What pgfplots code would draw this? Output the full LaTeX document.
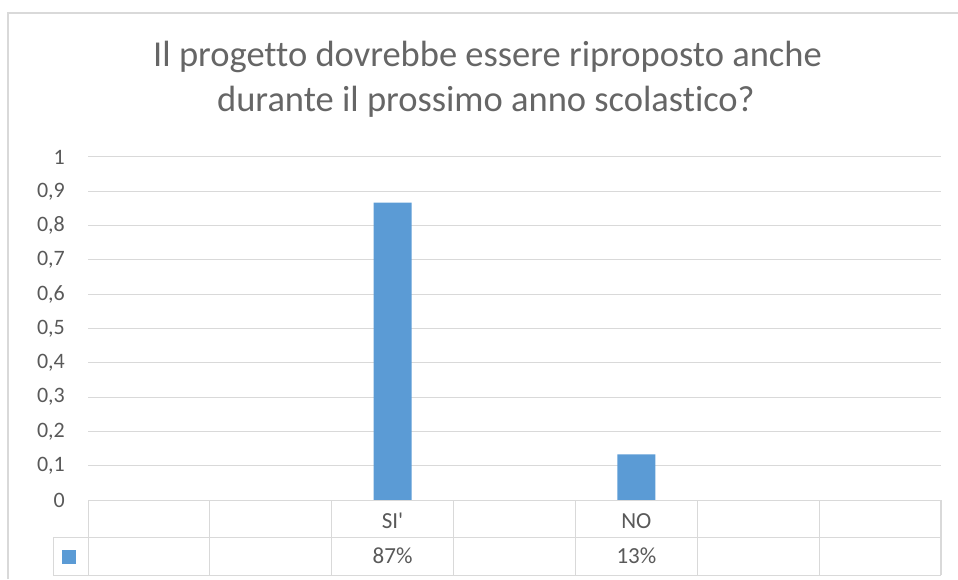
\documentclass[border=0pt]{standalone}
\usepackage{pgfplots}
\pgfplotsset{compat=1.18}
\usepackage{fontspec}
\setmainfont{Carlito}[Ligatures=NoCommon]
\definecolor{barblue}{HTML}{5B9BD5}
\definecolor{gridgray}{HTML}{D9D9D9}
\definecolor{txtgray}{HTML}{595959}
\definecolor{titlegray}{HTML}{666666}
\begin{document}
\begin{tikzpicture}[x=1pt,y=1pt]
\path[use as bounding box] (0,0) rectangle (958,579);
% outer chart frame (cut off at right and bottom)
\draw[gridgray, line width=2pt] (8,0) -- (8,566) -- (958,566);
% title
\node[titlegray, anchor=base, inner sep=0pt, font=\fontsize{36.5}{40}\selectfont] at (487.5,512) {Il progetto dovrebbe essere riproposto anche};
\node[titlegray, anchor=base, inner sep=0pt, font=\fontsize{36.5}{40}\selectfont] at (486,467) {durante il prossimo anno scolastico?};

\begin{axis}[
    at={(88pt,79pt)}, anchor=south west,
    scale only axis,
    width=853pt, height=343pt,
    xmin=0, xmax=7,
    ymin=0, ymax=1,
    axis line style={draw=none},
    xtick=\empty,
    ytick={0,0.1,...,1.01},
    ymajorgrids=true,
    grid style={gridgray, line width=1pt},
    major tick length=0pt,
    yticklabel style={
        /pgf/number format/.cd, use comma, fixed, precision=1, assume math mode=true,
        /tikz/.cd, font=\fontsize{22}{22}\selectfont, text=txtgray, inner sep=0pt, xshift=-23pt},
    clip=false,
]
\addplot[ybar, fill=barblue, draw=none, bar width=38pt] coordinates {(2.5,0.8667) (4.5,0.1333)};
\end{axis}

% data table below the axis
\begin{scope}[gridgray, line width=1pt]
\draw (88,79) -- (941,79);
\draw (53,42) -- (941,42);
\draw (53,4) -- (941,4);
\draw (53,42) -- (53,4);
\foreach \k in {0,...,6} {
  \draw ({88+\k*121.857},79) -- ({88+\k*121.857},4);
}
\draw[line width=2pt] (941,79) -- (941,4);
\end{scope}
\fill[barblue] (62,15) rectangle (76,29);
\begin{scope}[every node/.style={txtgray, anchor=base, inner sep=0pt, font=\fontsize{23}{23}\selectfont}]
\node at (392.6,51) {SI\textquotesingle};
\node at (636.4,51) {NO};
\node at (392.6,16) {87\%};
\node at (636.4,16) {13\%};
\end{scope}
\end{tikzpicture}
\end{document}
